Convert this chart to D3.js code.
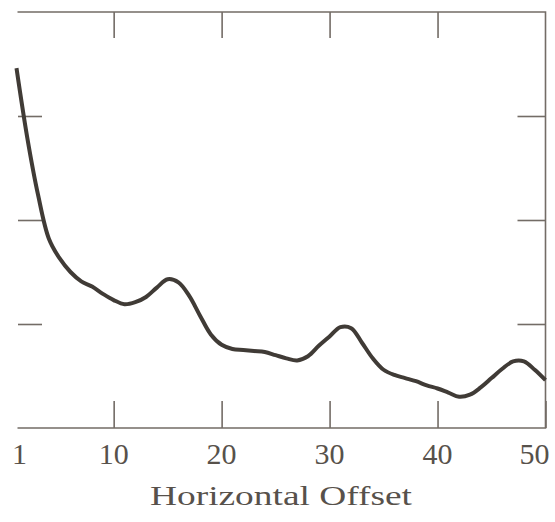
<!DOCTYPE html>
<html>
<head>
<meta charset="utf-8">
<script src="https://cdn.jsdelivr.net/npm/d3@7"></script>
<style>
  body { margin: 0; background: #fff; }
  svg { display: block; }
</style>
</head>
<body>
<svg id="chart" width="555" height="522"></svg>
<script>
// offsets along the x axis and the curve height at each one
var offsets = d3.range(1, 51)
var values = [3.46, 2.79, 2.24, 1.82, 1.63, 1.50, 1.41, 1.36, 1.29, 1.23,
              1.19, 1.21, 1.26, 1.35, 1.43, 1.40, 1.27, 1.08, 0.90, 0.80,
              0.76, 0.75, 0.74, 0.73, 0.70, 0.67, 0.65, 0.69, 0.79, 0.88,
              0.97, 0.96, 0.82, 0.67, 0.56, 0.51, 0.48, 0.45, 0.41, 0.38,
              0.34, 0.30, 0.32, 0.39, 0.48, 0.57, 0.64, 0.64, 0.56, 0.46]
var xTickLabels = [1, 10, 20, 30, 40, 50]
var xTickMarks = [10, 20, 30, 40, 50]
var yTickMarks = [1, 2, 3]
var xTitle = "Horizontal Offset"

var dimensions = {
        width: 555,
        height: 522,
        left: 16.5,
        right: 545.5,
        top: 12,
        bottom: 428
}

var data = offsets.map(function (d, i) { return { x: d, y: values[i] } })

var svg = d3.select("#chart")

var xScale = d3.scaleLinear()
        .domain([1, 50])
        .range([dimensions.left, dimensions.right])

var yScale = d3.scaleLinear()
        .domain([0, 4])
        .range([dimensions.bottom, dimensions.top])

var axisColor = "#736c66"
var textColor = "#57514b"
var font = "'Liberation Serif', 'DejaVu Serif', serif"

// frame: top, bottom and right only
var frame = svg.append("g")
        .attr("stroke", axisColor)
        .attr("stroke-width", 1.6)
        .attr("fill", "none")
frame.append("path")
        .attr("d", "M" + (dimensions.left + 1) + "," + dimensions.top + "H" + dimensions.right +
                   "V" + dimensions.bottom + "H" + (dimensions.left + 1))

// tick marks pointing inward
function styleAxis(g) {
        g.select(".domain").remove()
        g.selectAll(".tick line").attr("stroke", axisColor).attr("stroke-width", 1.6)
}

svg.append("g")
        .attr("transform", "translate(0," + dimensions.bottom + ")")
        .call(d3.axisBottom(xScale).tickValues(xTickMarks).tickSize(-27).tickFormat(""))
        .call(styleAxis)

svg.append("g")
        .attr("transform", "translate(0," + dimensions.top + ")")
        .call(d3.axisTop(xScale).tickValues(xTickMarks.slice(0, 4)).tickSize(-26).tickFormat(""))
        .call(styleAxis)

svg.append("g")
        .attr("transform", "translate(" + (dimensions.left + 1.5) + ",0)")
        .call(d3.axisLeft(yScale).tickValues(yTickMarks).tickSize(-24).tickFormat(""))
        .call(styleAxis)

svg.append("g")
        .attr("transform", "translate(" + dimensions.right + ",0)")
        .call(d3.axisRight(yScale).tickValues(yTickMarks).tickSize(-28).tickFormat(""))
        .call(styleAxis)

// x tick labels, end ones nudged inward
svg.append("g")
        .selectAll("text")
        .data(xTickLabels)
        .enter()
        .append("text")
        .attr("x", function (d) { return xScale(d) + (d == 1 ? 3 : d == 50 ? -11 : 0) })
        .attr("y", 464)
        .attr("text-anchor", "middle")
        .attr("font-family", font)
        .attr("font-size", 30)
        .attr("fill", textColor)
        .text(function (d) { return d })

svg.append("text")
        .attr("x", (dimensions.left + dimensions.right) / 2)
        .attr("y", 505)
        .attr("text-anchor", "middle")
        .attr("font-family", font)
        .attr("font-size", 28)
        .attr("textLength", 262)
        .attr("lengthAdjust", "spacingAndGlyphs")
        .attr("fill", textColor)
        .text(xTitle)

// the curve
var line = d3.line()
        .x(function (d) { return xScale(d.x) })
        .y(function (d) { return yScale(d.y) })
        .curve(d3.curveCatmullRom.alpha(0.5))

svg.append("path")
        .datum(data)
        .attr("d", line)
        .attr("fill", "none")
        .attr("stroke", "#403b36")
        .attr("stroke-width", 4)
        .attr("stroke-linejoin", "round")
</script>
</body>
</html>
